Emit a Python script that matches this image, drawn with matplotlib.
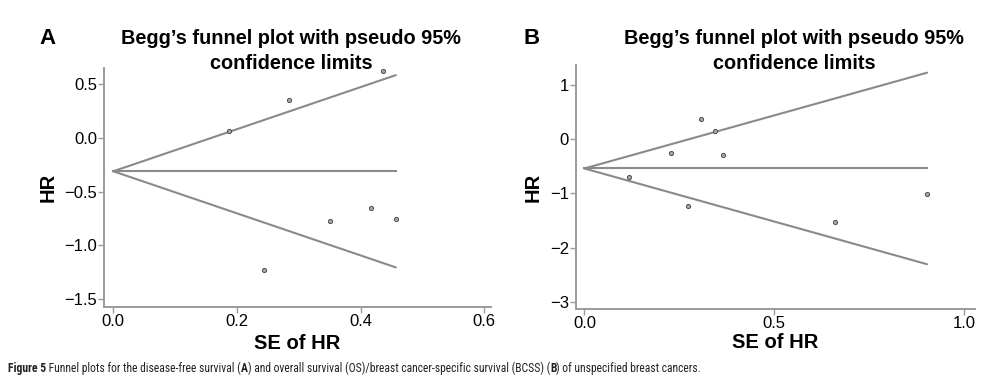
import numpy as np
import matplotlib
matplotlib.use("Agg")
import matplotlib.pyplot as plt

plt.rcParams['font.family'] = ['Liberation Sans', 'DejaVu Sans']

# Panel A: disease-free survival
se_a = [0.187, 0.285, 0.437, 0.244, 0.351, 0.417, 0.457]
hr_a = [0.065, 0.357, 0.621, -1.233, -0.774, -0.649, -0.751]
center_a = -0.31
xticks_a = [0.0, 0.2, 0.4, 0.6]
yticks_a = [0.5, 0.0, -0.5, -1.0, -1.5]

# Panel B: OS / BCSS
se_b = [0.118, 0.227, 0.272, 0.306, 0.344, 0.366, 0.660, 0.902]
hr_b = [-0.695, -0.252, -1.24, 0.375, 0.16, -0.283, -1.52, -1.02]
center_b = -0.54
xticks_b = [0.0, 0.5, 1.0]
yticks_b = [1, 0, -1, -2, -3]

title = "Begg\u2019s funnel plot with pseudo 95%\nconfidence limits"
caption_parts = [("Figure 5", True), (" Funnel plots for the disease-free survival (", False), ("A", True),
                 (") and overall survival (OS)/breast cancer-specific survival (BCSS) (", False), ("B", True),
                 (") of unspecified breast cancers.", False)]

fig = plt.figure(figsize=(9.86, 3.88), dpi=100)
axA = fig.add_axes([0.1055, 0.2095, 0.498 - 0.1055, 0.8247 - 0.2095])
axB = fig.add_axes([0.5842, 0.2028, 0.9888 - 0.5842, 0.8325 - 0.2028])

lc = '#8a8a8a'
def fmt_tick(v):
    s = f"{abs(v):.1f}" if isinstance(v, float) else f"{abs(v)}"
    return ("\u2212" + s) if v < 0 else s

def draw(ax, se, hr, center, xt, yt, xlim, ylim, xlabelpad):
    smax = max(se)
    xs = np.array([0.0, smax])
    ax.plot(xs, center + 1.96 * xs, color=lc, lw=1.5, solid_capstyle='round')
    ax.plot(xs, center - 1.96 * xs, color=lc, lw=1.5, solid_capstyle='round')
    ax.plot(xs, [center, center], color=lc, lw=1.5)
    ax.scatter(se, hr, s=9, facecolor='#a8a8a8', edgecolor='#505050', linewidths=0.7, zorder=3)
    ax.set_xlim(*xlim)
    ax.set_ylim(*ylim)
    ax.set_xticks(xt)
    ax.set_yticks(yt)
    ax.set_xticklabels([fmt_tick(v) for v in xt])
    ax.set_yticklabels([fmt_tick(v) for v in yt])
    for s in ['top', 'right']:
        ax.spines[s].set_visible(False)
    for s in ['left', 'bottom']:
        ax.spines[s].set_color('#9a9a9a')
        ax.spines[s].set_linewidth(1.4)
    ax.tick_params(direction='out', length=4, width=1, color='#9a9a9a', labelsize=12, pad=1)
    ax.set_xlabel("SE of HR", fontsize=14.5, fontweight='bold', labelpad=xlabelpad)
    ax.set_ylabel("HR", fontsize=14.5, fontweight='bold', labelpad=5)

draw(axA, se_a, hr_a, center_a, xticks_a, yticks_a, (-0.015, 0.611), (-1.572, 0.652), 3.5)
draw(axB, se_b, hr_b, center_b, xticks_b, yticks_b, (-0.022, 1.028), (-3.14, 1.37), 1)

fig.text(291 / 986, 1 - 51 / 388, title, ha='center', va='center', fontsize=14.3, fontweight='bold', linespacing=1.35)
fig.text(794 / 986, 1 - 51 / 388, title, ha='center', va='center', fontsize=14.3, fontweight='bold', linespacing=1.35)
fig.text(47 / 986, 1 - 38 / 388, "A", ha='center', va='center', fontsize=16, fontweight='bold')
fig.text(532 / 986, 1 - 38 / 388, "B", ha='center', va='center', fontsize=16, fontweight='bold')

# caption: chain text pieces along a baseline
fig.canvas.draw()
renderer = fig.canvas.get_renderer()
x_px = 8.0
y_fig = 1 - 372 / 388
for txt, bold in caption_parts:
    t = fig.text(x_px / 986, y_fig, txt, fontsize=8.4, fontweight='bold' if bold else 'normal',
                 color='#222222', va='baseline', ha='left',
                 family=['Roboto Condensed', 'Liberation Sans'])
    bb = t.get_window_extent(renderer)
    x_px += bb.width

fig.savefig("out.png", dpi=100)
